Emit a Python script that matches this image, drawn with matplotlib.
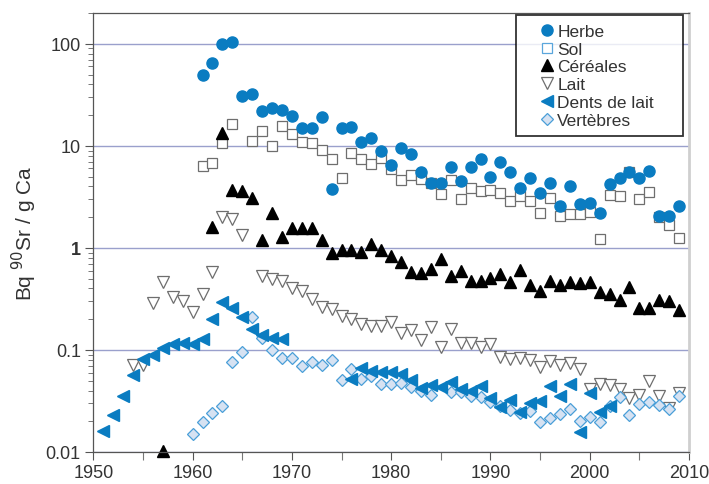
import matplotlib.pyplot as plt
import numpy as np
from matplotlib.lines import Line2D
from matplotlib.ticker import FixedLocator, LogLocator, NullFormatter

plt.rcParams['font.family'] = ['Liberation Sans', 'DejaVu Sans']

# Herbe
herbe_annee = list(range(1961, 2010))
herbe = [50, 65, 100, 105, 31, 32, 22, 23.6, 22.5, 19.5, 15, 14.8, 19.2, 3.8,
         14.9, 15.4, 11, 12, 8.9, 6.5, 9.5, 8.4, 5.6, 4.3, 4.3, 6.2, 4.5, 6.2,
         7.4, 4.9, 6.95, 5.5, 3.84, 4.84, 3.43, 4.3, 2.59, 4.07, 2.67, 2.73,
         2.18, 4.26, 4.84, 5.6, 4.84, 5.7, 2.04, 2.06, 2.6]

# Sol (pas de mesure en 1965)
sol_annee = [1961, 1962, 1963, 1964] + list(range(1966, 2010))
sol = [6.4, 6.75, 10.6, 16.4, 11.1, 13.9, 9.9, 15.6, 13, 11, 10.7, 9.1, 7.4,
       4.8, 8.5, 7.4, 6.6, 7.6, 5.9, 4.66, 5.2, 4.73, 4.35, 3.37, 4.66, 3.0,
       3.84, 3.6, 3.69, 3.43, 2.88, 3.2, 2.88, 2.2, 3.06, 2.04, 2.13, 2.13,
       2.23, 1.23, 3.3, 3.22, 5.5, 3.03, 3.5, 1.99, 1.67, 1.25]

# Céréales
cereales_annee = [1957] + list(range(1962, 2010))
cereales = [0.0102, 1.59, 13.3, 3.66, 3.58, 3.06, 1.2, 2.18, 1.28, 1.55, 1.55,
            1.55, 1.19, 0.89, 0.95, 0.95, 0.91, 1.1, 0.96, 0.84, 0.73, 0.58,
            0.57, 0.62, 0.78, 0.53, 0.6, 0.47, 0.475, 0.505, 0.557, 0.465,
            0.61, 0.434, 0.38, 0.475, 0.434, 0.465, 0.45, 0.465, 0.37, 0.35,
            0.31, 0.41, 0.258, 0.258, 0.31, 0.30, 0.247]

# Lait (pas de mesure en 1966)
lait_annee = list(range(1954, 1966)) + list(range(1967, 2010))
lait = [0.0708, 0.0708, 0.288, 0.458, 0.327, 0.3, 0.236, 0.357, 0.575, 1.99,
        1.92, 1.35, 0.532, 0.494, 0.469, 0.403, 0.374, 0.315, 0.264, 0.251,
        0.216, 0.2, 0.179, 0.17, 0.17, 0.188, 0.145, 0.157, 0.124, 0.166,
        0.108, 0.162, 0.118, 0.118, 0.108, 0.114, 0.085, 0.082, 0.084, 0.08,
        0.0687, 0.078, 0.0708, 0.074, 0.0656, 0.041, 0.046, 0.045, 0.0418,
        0.0336, 0.0359, 0.0493, 0.0356, 0.0272, 0.038]

# Dents de lait (lacune 1970-1975)
dents_annee = list(range(1951, 1970)) + list(range(1976, 2003))
dents = [0.016, 0.023, 0.0354, 0.0565, 0.081, 0.0888, 0.105, 0.1155, 0.118,
         0.114, 0.129, 0.2, 0.293, 0.255, 0.212, 0.16, 0.139, 0.131, 0.129,
         0.052, 0.067, 0.0615, 0.061, 0.061, 0.0578, 0.0504, 0.0428, 0.0452,
         0.0437, 0.048, 0.0415, 0.04, 0.0439, 0.0337, 0.0278, 0.032, 0.0246,
         0.0305, 0.0315, 0.0444, 0.0352, 0.0463, 0.0158, 0.0375, 0.0247,
         0.0281]

# Vertèbres (pas de mesure en 1985)
vert_annee = list(range(1960, 1985)) + list(range(1986, 2010))
vert = [0.0151, 0.0198, 0.0243, 0.0282, 0.0762, 0.0955, 0.211, 0.132, 0.0995,
        0.0835, 0.0835, 0.0698, 0.076, 0.0707, 0.0798, 0.0505, 0.0645, 0.0518,
        0.0556, 0.046, 0.0466, 0.0472, 0.0435, 0.0395, 0.0364, 0.0386, 0.039,
        0.0357, 0.0342, 0.031, 0.0282, 0.0258, 0.024, 0.025, 0.0196, 0.0216,
        0.0234, 0.0262, 0.02, 0.0222, 0.0196, 0.0282, 0.0342, 0.0232, 0.0293,
        0.031, 0.0289, 0.0262, 0.0353]

bleu = '#0a7cc1'
gris = '#6e6e6e'

fig = plt.figure(figsize=(7.09, 4.85), dpi=100)
ax = fig.add_axes([0.1316, 0.066, 0.8402, 0.905])

kw = dict(linestyle='none', clip_on=False)
ax.plot(lait_annee, lait, marker='v', ms=8.5, mfc='white', mec=gris, mew=0.9, **kw)
ax.plot(sol_annee, sol, marker='s', ms=7, mfc='white', mec=gris, mew=0.9, **kw)
ax.plot(cereales_annee, cereales, marker='^', ms=8.5, color='black', **kw)
ax.plot(herbe_annee, herbe, marker='o', ms=8, color=bleu, mec=bleu, **kw)
ax.plot(vert_annee, vert, marker='D', ms=6.5, mfc='#d6e2f2', mec='#4a9fd8', mew=0.9, **kw)
ax.plot(dents_annee, dents, marker='<', ms=8.5, color=bleu, **kw)

ax.set_yscale('log')
ax.set_xlim(1950, 2010)
ax.set_ylim(0.01, 200)

ax.yaxis.set_major_locator(FixedLocator([0.01, 0.1, 1, 10, 100]))
ax.set_yticklabels(['0.01', '0.1', '1', '10', '100'])
ax.get_yticklabels()[2].set_fontweight('bold')
ax.yaxis.set_minor_locator(LogLocator(base=10, subs=np.arange(2, 10)))
ax.yaxis.set_minor_formatter(NullFormatter())
ax.set_xticks(range(1950, 2011, 10))
ax.set_xticks(range(1955, 2010, 10), minor=True)

ax.tick_params(axis='both', which='major', labelsize=13, labelcolor='#333333',
               color='#555555', length=6, width=0.8, pad=3)
ax.tick_params(axis='y', which='minor', color='#777777', length=3.5, width=0.7)
ax.tick_params(axis='x', which='minor', color='#777777', length=6, width=0.8)

ax.grid(axis='y', which='major', color='#9aa0cc', linewidth=1.0)
ax.set_axisbelow(True)

for s in ['left', 'bottom', 'top']:
    ax.spines[s].set_color('#555555')
    ax.spines[s].set_linewidth(0.9)
ax.spines['right'].set_color('#cfcfcf')
ax.spines['right'].set_linewidth(2)

ax.set_ylabel('Bq $^{90}$Sr / g Ca', fontsize=15, color='#333333', labelpad=5)

poignees = [
    Line2D([], [], linestyle='none', marker='o', ms=8, color=bleu),
    Line2D([], [], linestyle='none', marker='s', ms=7, mfc='white', mec='#5aa6dc', mew=0.9),
    Line2D([], [], linestyle='none', marker='^', ms=8.5, color='black'),
    Line2D([], [], linestyle='none', marker='v', ms=8.5, mfc='white', mec=gris, mew=0.9),
    Line2D([], [], linestyle='none', marker='<', ms=8.5, color=bleu),
    Line2D([], [], linestyle='none', marker='D', ms=6.5, mfc='#d6e2f2', mec='#4a9fd8', mew=0.9),
]
noms = ['Herbe', 'Sol', 'Céréales', 'Lait', 'Dents de lait', 'Vertèbres']
leg = ax.legend(poignees, noms, loc='upper left', mode='expand',
                bbox_to_anchor=(0.7097, 0.9855, 0.2802, 0.01),
                fontsize=12.5, frameon=True, fancybox=False, handlelength=2.6,
                handletextpad=-0.72, labelspacing=0.15, borderpad=0.5,
                borderaxespad=0.0)
leg.get_frame().set_edgecolor('black')
leg.get_frame().set_linewidth(1.3)
for t in leg.get_texts():
    t.set_color('#333333')

fig.savefig('out.png', dpi=100)
